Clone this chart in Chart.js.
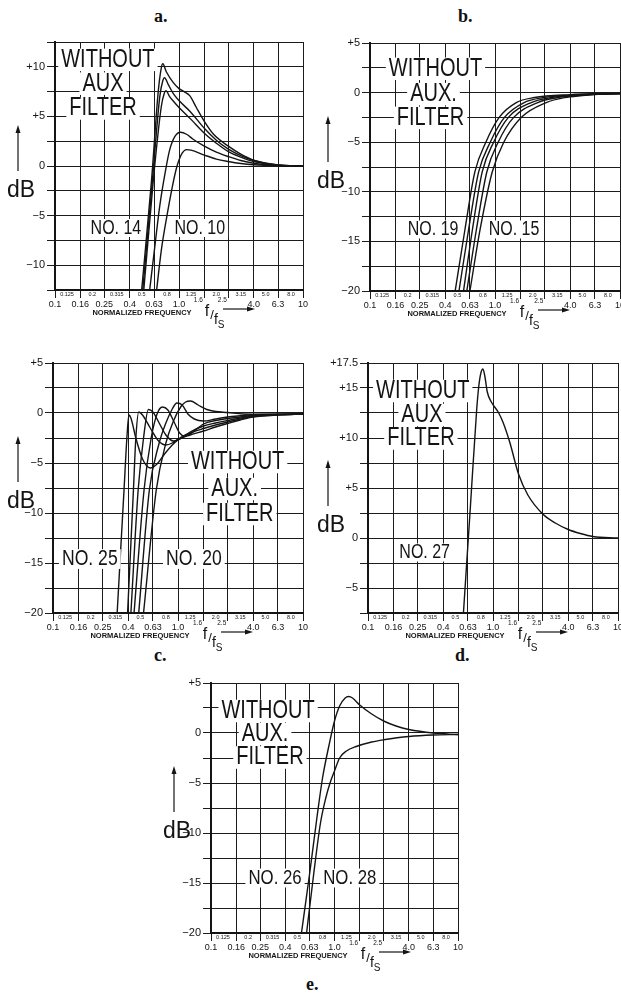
<!DOCTYPE html>
<html>
<head>
<meta charset="utf-8">
<script src="https://cdn.jsdelivr.net/npm/chart.js@4.4.1/dist/chart.umd.min.js"></script>
<style>
  body { margin: 0; background: #fff; width: 621px; height: 1002px; overflow: hidden; position: relative; }
  canvas { position: absolute; }
  .tag { position: absolute; font: bold 18px 'Liberation Serif', 'DejaVu Serif', serif; color: #111; }
</style>
</head>
<body>
<div class="tag" style="left:154px;top:6px">a.</div>
<div class="tag" style="left:458px;top:6px">b.</div>
<div class="tag" style="left:154px;top:645px">c.</div>
<div class="tag" style="left:455px;top:645px">d.</div>
<div class="tag" style="left:306px;top:974px">e.</div>

<canvas id="chartA"></canvas>
<canvas id="chartB"></canvas>
<canvas id="chartC"></canvas>
<canvas id="chartD"></canvas>
<canvas id="chartE"></canvas>

<script>
// frequency axis: grid every 1/5 decade, half-step values printed inside
const gridFreqs = [0.1, 0.16, 0.25, 0.4, 0.63, 1.0, 1.6, 2.5, 4.0, 6.3, 10];
const gridLabels = ['0.1', '0.16', '0.25', '0.4', '0.63', '1.0', '1.6', '2.5', '4.0', '6.3', '10'];
const midFreqs = [0.125, 0.2, 0.315, 0.5, 0.8, 1.25, 2.0, 3.15, 5.0, 8.0];
const midLabels = ['0.125', '0.2', '0.315', '0.5', '0.8', '1.25', '2.0', '3.15', '5.0', '8.0'];
// these two are squeezed in small beside the f/fs title
const smallGridLabels = ['1.6', '2.5'];

// response curves, [f/fs, dB]
// a. filters No. 10 - No. 14
const curveA1 = [[0.50, -12.5], [0.6, -1.5], [0.68, 7.5], [0.72, 9.9], [0.74, 10.3], [0.79, 9.5], [0.9, 8.4], [1.0, 7.8], [1.1, 7.5], [1.22, 7.1], [1.38, 5.9], [1.6, 4.5], [1.9, 3.2], [2.5, 2.0], [3.15, 1.2], [4.0, 0.6], [6.3, 0.1], [10, 0]];
const curveA2 = [[0.51, -12.5], [0.61, -1.5], [0.7, 7.0], [0.74, 8.6], [0.765, 8.9], [0.82, 8.2], [0.9, 7.3], [1.0, 6.6], [1.25, 5.4], [1.6, 3.8], [2.0, 2.6], [2.5, 1.7], [3.15, 1.05], [4.0, 0.55], [6.3, 0.1], [10, 0]];
const curveA3 = [[0.52, -12.5], [0.62, -1.5], [0.72, 6.0], [0.76, 7.3], [0.785, 7.6], [0.84, 7.0], [0.92, 6.4], [1.0, 5.9], [1.25, 4.7], [1.6, 3.3], [2.0, 2.3], [2.5, 1.45], [3.15, 0.9], [4.0, 0.45], [6.3, 0.08], [10, 0]];
const curveA4 = [[0.58, -12.5], [0.64, -8.0], [0.7, -4.0], [0.77, -0.8], [0.84, 1.6], [0.93, 3.0], [1.03, 3.4], [1.15, 3.2], [1.3, 2.7], [1.6, 2.0], [2.0, 1.4], [2.5, 0.95], [3.15, 0.55], [4.0, 0.28], [6.3, 0.05], [10, 0]];
const curveA5 = [[0.66, -12.5], [0.72, -8.5], [0.8, -5.0], [0.88, -2.2], [0.95, -0.3], [1.0, 0.6], [1.06, 1.3], [1.15, 1.65], [1.25, 1.6], [1.6, 1.1], [2.0, 0.7], [2.5, 0.45], [3.15, 0.25], [4.0, 0.12], [6.3, 0.02], [10, 0]];

// b. filters No. 15 - No. 19
const curveB1 = [[0.48, -20], [0.575, -13.8], [0.69, -8], [0.845, -5], [1.08, -2.5], [1.48, -1], [2.07, -0.5], [4.0, -0.2], [6.3, -0.12], [10, -0.1]];
const curveB2 = [[0.515, -20], [0.615, -13.8], [0.74, -8], [0.916, -5], [1.19, -2.5], [1.71, -1], [2.48, -0.5], [4.0, -0.25], [6.3, -0.13], [10, -0.1]];
const curveB3 = [[0.56, -20], [0.66, -13.8], [0.79, -8], [0.975, -5], [1.28, -2.5], [1.95, -1], [2.82, -0.5], [4.0, -0.3], [6.3, -0.15], [10, -0.1]];
const curveB4 = [[0.595, -20], [0.71, -13.8], [0.86, -8], [1.06, -5], [1.41, -2.5], [2.2, -1], [3.2, -0.5], [4.5, -0.3], [6.3, -0.17], [10, -0.1]];
const curveB5 = [[0.63, -20], [0.76, -13.8], [0.95, -8], [1.175, -5], [1.62, -2.5], [2.57, -1], [3.6, -0.5], [5.0, -0.3], [6.3, -0.2], [10, -0.1]];

// c. filters No. 20 - No. 25
const curveC1 = [[0.326, -20], [0.37, -7.7], [0.39, -2.5], [0.405, -0.2], [0.42, -0.5], [0.46, -2.5], [0.52, -4.6], [0.6, -5.5], [0.68, -5.1], [0.78, -4.1], [0.9, -3.2], [1.0, -2.7], [1.25, -2.2], [1.6, -1.8], [2.0, -1.4], [2.5, -1.05], [3.15, -0.7], [4.0, -0.4], [6.3, -0.2], [10, -0.12]];
const curveC2 = [[0.395, -20], [0.44, -7.7], [0.46, -2.5], [0.485, 0.1], [0.52, -0.2], [0.6, -1.5], [0.7, -2.8], [0.8, -3.2], [0.9, -3.0], [1.0, -2.6], [1.25, -2.0], [1.6, -1.55], [2.0, -1.2], [2.5, -0.9], [3.15, -0.6], [4.0, -0.35], [6.3, -0.18], [10, -0.12]];
const curveC3 = [[0.42, -20], [0.48, -7.7], [0.53, -2.5], [0.58, 0.35], [0.63, 0.1], [0.7, -0.9], [0.8, -2.2], [0.92, -2.8], [1.0, -2.7], [1.25, -1.9], [1.6, -1.3], [2.0, -1.0], [2.5, -0.75], [3.15, -0.5], [4.0, -0.3], [6.3, -0.16], [10, -0.12]];
const curveC4 = [[0.445, -20], [0.535, -7.7], [0.61, -2.5], [0.68, -0.1], [0.75, 0.6], [0.83, 0.3], [0.93, -0.9], [1.03, -2.0], [1.12, -2.3], [1.25, -2.1], [1.6, -1.1], [2.0, -0.75], [2.5, -0.55], [3.15, -0.4], [4.0, -0.25], [6.3, -0.15], [10, -0.12]];
const curveC5 = [[0.485, -20], [0.59, -7.7], [0.7, -3.2], [0.8, -1.0], [0.9, 0.4], [0.98, 1.0], [1.08, 0.8], [1.2, -0.1], [1.35, -0.6], [1.6, -0.8], [2.0, -0.6], [2.5, -0.4], [3.15, -0.28], [4.0, -0.18], [6.3, -0.12], [10, -0.1]];
const curveC6 = [[0.53, -20], [0.67, -7.7], [0.8, -3.0], [0.92, -0.8], [1.05, 0.6], [1.15, 1.1], [1.26, 1.2], [1.45, 0.8], [1.7, 0.35], [2.0, 0.15], [2.5, 0.05], [3.3, -0.1], [5.0, -0.12], [10, -0.1]];

// d. filter No. 27
const curveD1 = [[0.58, -7.5], [0.66, 3.2], [0.74, 12.8], [0.77, 15.2], [0.8, 16.5], [0.83, 16.9], [0.86, 16.2], [0.9, 14.6], [0.97, 13.6], [1.1, 12.6], [1.2, 11.6], [1.36, 9.6], [1.6, 6.4], [1.9, 4.3], [2.5, 2.4], [3.15, 1.5], [4.0, 0.85], [5.0, 0.45], [6.3, 0.15], [10, 0]];

// e. filters No. 26 and No. 28
const curveE1 = [[0.54, -20], [0.63, -14], [0.72, -8.5], [0.8, -4.5], [0.9, -1.3], [1.0, 1.2], [1.1, 2.7], [1.22, 3.5], [1.3, 3.65], [1.4, 3.5], [1.6, 2.8], [2.0, 1.9], [2.5, 1.2], [3.15, 0.7], [4.0, 0.35], [6.3, 0.0], [10, -0.15]];
const curveE2 = [[0.594, -20], [0.68, -14], [0.77, -9], [0.85, -6.5], [0.92, -5], [1.0, -3.8], [1.1, -2.5], [1.25, -1.8], [1.5, -1.35], [2.0, -0.9], [2.5, -0.68], [4.0, -0.35], [6.3, -0.2], [10, -0.15]];

const LETTER = '"Liberation Sans", Arial, sans-serif';
const INK = '#141414';

function dbLabel(v) {
  if (v > 0) return '+' + v;
  if (v < 0) return '\u2212' + (-v);
  return '0';
}

// lettering, axis titles and the small in-between frequency numbers
const notesPlugin = {
  id: 'panelNotes',
  afterDatasetsDraw(chart, args, opts) {
    const { ctx, chartArea: area, scales: { x, y } } = chart;
    ctx.save();
    ctx.textAlign = 'center';
    ctx.textBaseline = 'middle';

    opts.notes.forEach(n => {
      const px = x.getPixelForValue(n.f);
      const py = y.getPixelForValue(n.db);
      const sx = 0.8;
      ctx.font = n.size + 'px ' + LETTER;
      const w = ctx.measureText(n.text).width * sx;
      ctx.fillStyle = '#fff';
      ctx.fillRect(px - w / 2 - 3, py - n.size * 0.45, w + 6, n.size * 0.9);
      ctx.save();
      ctx.translate(px, py);
      ctx.scale(sx, 1);
      ctx.fillStyle = INK;
      ctx.fillText(n.text, 0, 0);
      ctx.restore();
    });

    // half-step frequencies just under the axis line
    ctx.font = '5.5px ' + LETTER;
    ctx.fillStyle = INK;
    midFreqs.forEach((f, i) => {
      ctx.fillText(midLabels[i], x.getPixelForValue(f), area.bottom + 4.5);
    });
    ctx.font = '6.5px ' + LETTER;
    smallGridLabels.forEach(lbl => {
      const f = gridFreqs[gridLabels.indexOf(lbl)];
      ctx.fillText(lbl, x.getPixelForValue(f) - 6, area.bottom + 10);
    });

    // "dB" with arrow
    const dx = area.left + opts.dB[0];
    const base = area.top + opts.dB[1];
    ctx.textAlign = 'left';
    ctx.textBaseline = 'alphabetic';
    ctx.font = '23px ' + LETTER;
    ctx.fillText('dB', dx, base);
    ctx.strokeStyle = INK;
    ctx.lineWidth = 1.2;
    ctx.beginPath();
    ctx.moveTo(dx + 11, base - 26);
    ctx.lineTo(dx + 11, base - 68);
    ctx.stroke();
    ctx.beginPath();
    ctx.moveTo(dx + 11, base - 72);
    ctx.lineTo(dx + 8.5, base - 64);
    ctx.lineTo(dx + 13.5, base - 64);
    ctx.closePath();
    ctx.fill();

    // frequency axis title
    ctx.textAlign = 'center';
    ctx.font = 'bold 7.5px ' + LETTER;
    ctx.fillText('NORMALIZED FREQUENCY', area.left + 87, area.bottom + 25);
    ctx.font = '16px ' + LETTER;
    ctx.fillText('f', area.left + 152, area.bottom + 26);
    ctx.font = '13px ' + LETTER;
    ctx.fillText('/', area.left + 157, area.bottom + 29);
    ctx.font = '14px ' + LETTER;
    ctx.fillText('f', area.left + 161, area.bottom + 34);
    ctx.font = '10px ' + LETTER;
    ctx.fillText('S', area.left + 166, area.bottom + 38);
    ctx.beginPath();
    ctx.moveTo(area.left + 168, area.bottom + 19);
    ctx.lineTo(area.left + 194, area.bottom + 19);
    ctx.stroke();
    ctx.beginPath();
    ctx.moveTo(area.left + 200, area.bottom + 19);
    ctx.lineTo(area.left + 192, area.bottom + 16.5);
    ctx.lineTo(area.left + 192, area.bottom + 21.5);
    ctx.closePath();
    ctx.fill();

    ctx.restore();
  }
};

const panels = [
  {
    canvas: 'chartA', plot: [55, 42, 303, 290], yMin: -12.5, yMax: 12.5, yLabels: [-10, -5, 0, 5, 10],
    curves: [curveA1, curveA2, curveA3, curveA4, curveA5], dB: [-48, 155],
    notes: [
      { text: 'WITHOUT', f: 0.267, db: 10.7, size: 25 },
      { text: 'AUX', f: 0.244, db: 8.3, size: 25 },
      { text: 'FILTER', f: 0.244, db: 5.8, size: 25 },
      { text: 'NO. 14', f: 0.31, db: -6.25, size: 20 },
      { text: 'NO. 10', f: 1.47, db: -6.25, size: 20 }
    ]
  },
  {
    canvas: 'chartB', plot: [370, 43, 620, 291], yMin: -20, yMax: 5, yLabels: [-20, -15, -10, -5, 0, 5],
    curves: [curveB1, curveB2, curveB3, curveB4, curveB5], dB: [-53, 145],
    notes: [
      { text: 'WITHOUT', f: 0.334, db: 2.4, size: 25 },
      { text: 'AUX.', f: 0.322, db: -0.15, size: 25 },
      { text: 'FILTER', f: 0.305, db: -2.55, size: 25 },
      { text: 'NO. 19', f: 0.32, db: -13.8, size: 20 },
      { text: 'NO. 15', f: 1.42, db: -13.8, size: 20 }
    ]
  },
  {
    canvas: 'chartC', plot: [53, 363, 303, 613], yMin: -20, yMax: 5, yLabels: [-20, -15, -10, -5, 0, 5],
    curves: [curveC1, curveC2, curveC3, curveC4, curveC5, curveC6], dB: [-46, 145],
    notes: [
      { text: 'WITHOUT', f: 3.0, db: -4.9, size: 25 },
      { text: 'AUX.', f: 2.84, db: -7.6, size: 25 },
      { text: 'FILTER', f: 3.12, db: -10.1, size: 25 },
      { text: 'NO. 25', f: 0.197, db: -14.6, size: 22 },
      { text: 'NO. 20', f: 1.34, db: -14.6, size: 22 }
    ]
  },
  {
    canvas: 'chartD', plot: [368, 363, 618, 613], yMin: -7.5, yMax: 17.5, yLabels: [-5, 0, 5, 10, 15, 17.5],
    curves: [curveD1], dB: [-51, 169],
    notes: [
      { text: 'WITHOUT', f: 0.274, db: 14.7, size: 25 },
      { text: 'AUX', f: 0.27, db: 12.3, size: 25 },
      { text: 'FILTER', f: 0.265, db: 9.95, size: 25 },
      { text: 'NO. 27', f: 0.284, db: -1.45, size: 20 }
    ]
  },
  {
    canvas: 'chartE', plot: [211, 683, 458, 933], yMin: -20, yMax: 5, yLabels: [-20, -15, -10, -5, 0, 5],
    curves: [curveE1, curveE2], dB: [-48, 155],
    notes: [
      { text: 'WITHOUT', f: 0.29, db: 2.2, size: 25 },
      { text: 'AUX.', f: 0.274, db: -0.1, size: 25 },
      { text: 'FILTER', f: 0.30, db: -2.45, size: 25 },
      { text: 'NO. 26', f: 0.33, db: -14.5, size: 21 },
      { text: 'NO. 28', f: 1.33, db: -14.5, size: 21 }
    ]
  }
];

const AXIS_W = 56, AXIS_H = 46, PAD_TOP = 14, PAD_RIGHT = 8;

panels.forEach(p => {
  const [L, T, R, B] = p.plot;
  const el = document.getElementById(p.canvas);
  el.width = (R - L) + AXIS_W + PAD_RIGHT;
  el.height = (B - T) + PAD_TOP + AXIS_H;
  el.style.left = (L - AXIS_W) + 'px';
  el.style.top = (T - PAD_TOP) + 'px';

  new Chart(el.getContext('2d'), {
    type: 'line',
    data: {
      datasets: p.curves.map(c => ({
        data: c.map(([f, db]) => ({ x: f, y: db })),
        borderColor: INK,
        borderWidth: 1.4,
        pointRadius: 0,
        fill: false,
        cubicInterpolationMode: 'monotone'
      }))
    },
    options: {
      responsive: false,
      animation: false,
      events: [],
      layout: { padding: { top: PAD_TOP, right: PAD_RIGHT, left: 0, bottom: 0 } },
      plugins: {
        legend: { display: false },
        tooltip: { enabled: false },
        panelNotes: { notes: p.notes, dB: p.dB }
      },
      scales: {
        x: {
          type: 'logarithmic',
          min: 0.1,
          max: 10,
          afterBuildTicks: s => { s.ticks = gridFreqs.map(v => ({ value: v })); },
          afterFit: s => { s.height = AXIS_H; s.paddingLeft = 0; s.paddingRight = 0; },
          ticks: {
            autoSkip: false,
            maxRotation: 0,
            padding: 1,
            color: INK,
            font: { family: LETTER, size: 9 },
            callback: (v, i) => (smallGridLabels.includes(gridLabels[i]) ? '' : gridLabels[i])
          },
          grid: { color: '#1c1c1c', lineWidth: 1, tickLength: 8 },
          border: { color: INK, width: 2 }
        },
        y: {
          type: 'linear',
          min: p.yMin,
          max: p.yMax,
          afterFit: s => { s.width = AXIS_W; s.paddingTop = 0; s.paddingBottom = 0; },
          ticks: {
            stepSize: 2.5,
            padding: 2,
            color: INK,
            font: { family: LETTER, size: 11 },
            callback: v => (p.yLabels.includes(v) ? dbLabel(v) : '')
          },
          grid: { color: '#1c1c1c', lineWidth: 1, tickLength: 8 },
          border: { color: INK, width: 2 }
        }
      }
    },
    plugins: [notesPlugin]
  });
});
</script>
</body>
</html>
